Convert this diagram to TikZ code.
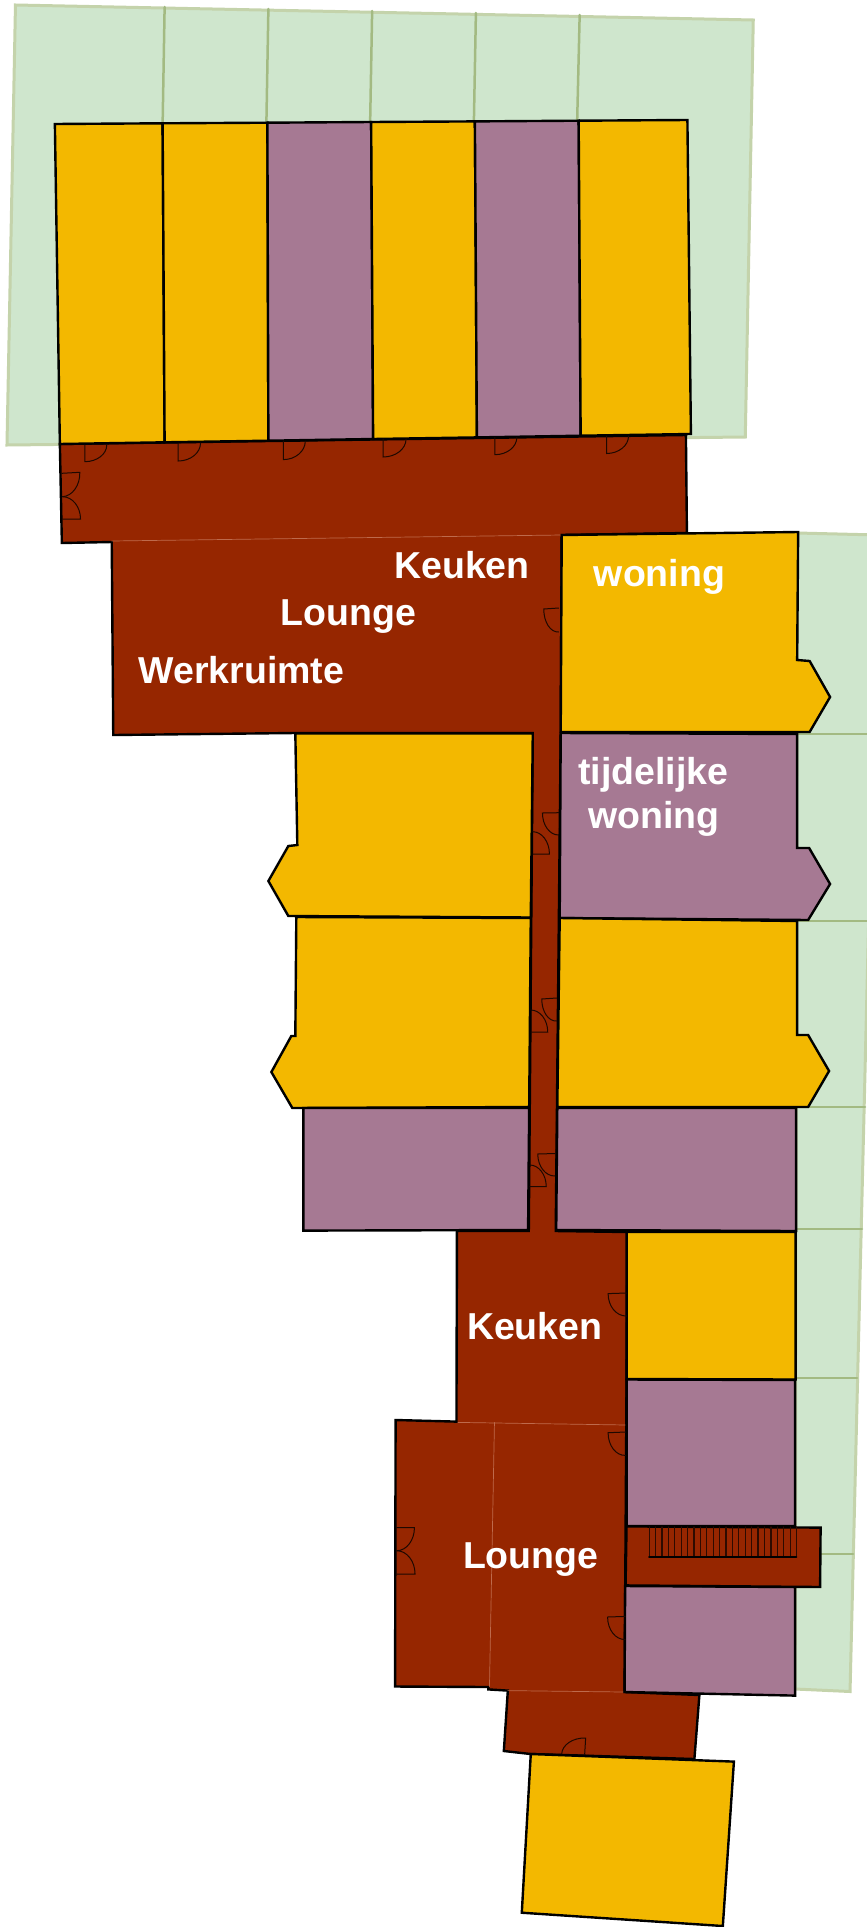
\documentclass[tikz,border=0pt]{standalone}
\usepackage{fontspec}
\setmainfont{Liberation Sans}
\usetikzlibrary{calc}
\definecolor{tuin}{HTML}{CFE6CD}
\definecolor{tuinrand}{HTML}{C4D3AB}
\definecolor{tuinlijn}{HTML}{A3BA82}
\definecolor{geel}{HTML}{F3B800}
\definecolor{paars}{HTML}{A67993}
\definecolor{rood}{HTML}{962600}
\definecolor{roodlijn}{HTML}{BE6A4C}
\tikzset{
  tuinvlak/.style={fill=tuin,draw=tuinrand,line width=3pt},
  tuinstreep/.style={draw=tuinlijn,line width=2.5pt},
  geelvlak/.style={fill=geel,draw=black,line width=2.4pt},
  paarsvlak/.style={fill=paars,draw=black,line width=2.4pt},
  roodvlak/.style={fill=rood,draw=black,line width=2.4pt},
  deur/.style={draw=black!80!rood,line width=1pt},
  roomname/.style={text=white,font=\bfseries\fontsize{37.5}{37.5}\selectfont,anchor=base,inner sep=0pt}
}
\begin{document}
\begin{tikzpicture}[x=0.9977pt,y=-1pt,cap=round]
  \clip (0,0) rectangle (869,1927);
% gardens
  \draw[tuinvlak] (15.5,5) -- (755,20) -- (747,437) -- (7,445) -- cycle;
  \foreach \xa/\ya/\xb/\yb in {165/7/163/124,269/9/267/123,373/11/371/122,477/13/475/121,581/15/578.5/121}
    \draw[tuinstreep] (\xa,\ya) -- (\xb,\yb);
  \draw[tuinvlak] (799,533) -- (880,535) -- (852,1691.5) -- (797,1689) -- cycle;
  \foreach \ya/\xb in {734/875,921/871,1107/867,1229/864,1378/859,1554/855}
    \draw[tuinstreep] (799,\ya) -- (\xb,\ya);
% corridors
  \draw[roodvlak] (60,444) -- (687.5,435) -- (688.5,533) -- (563,535) -- (562,733) -- (557,1231)
    -- (629,1232) -- (628,1380) -- (626,1692) -- (701,1695) -- (696,1759) -- (532,1754) -- (505,1751)
    -- (509,1690.6) -- (489.5,1689.4) -- (489.5,1687) -- (396,1686.5) -- (396.5,1420) -- (457.5,1421.6)
    -- (458,1231) -- (530,1231) -- (534,733) -- (296,733) -- (113.5,735) -- (112,542) -- (62,543) -- cycle;
  \foreach \xa/\ya/\xb/\yb in {112/541/563/535,459/1422.4/628/1425,495.6/1422.4/490.6/1686.5,509/1690.6/625.5/1692}
    \draw[roodlijn,line width=0.7pt] (\xa,\ya) -- (\xb,\yb);
% top row
  \draw[geelvlak] (55,124) -- (163,123.3) -- (165,442.3) -- (60,444) -- cycle;
  \draw[geelvlak] (163,123.3) -- (268,122.7) -- (269,440.7) -- (165,442.3) -- cycle;
  \draw[paarsvlak] (268,122.7) -- (372,122) -- (374,439) -- (269,440.7) -- cycle;
  \draw[geelvlak] (372,122) -- (476,121.4) -- (478,437.4) -- (374,439) -- cycle;
  \draw[paarsvlak] (476,121.4) -- (580,120.7) -- (582,435.7) -- (478,437.4) -- cycle;
  \draw[geelvlak] (580,120.7) -- (689,120) -- (692.5,434) -- (582,435.7) -- cycle;
% right wing
  \draw[geelvlak] (563,535) -- (800,532) -- (799,660) -- (811.5,661) -- (832,697) -- (811.5,732) -- (562,732) -- cycle;
  \draw[paarsvlak] (562,733) -- (799,734) -- (799,848) -- (811,848) -- (832,884) -- (810,920) -- (561,918) -- cycle;
  \draw[geelvlak] (561,918) -- (799,921) -- (799,1035) -- (810,1035) -- (831,1071) -- (810,1107) -- (558.6,1107) -- cycle;
  \draw[paarsvlak] (558.6,1108) -- (798,1108) -- (798,1231) -- (557.5,1230) -- cycle;
  \draw[geelvlak] (628,1232) -- (797.5,1232) -- (797.5,1379.5) -- (628,1379) -- cycle;
  \draw[paarsvlak] (628,1379.5) -- (797,1380) -- (797,1526) -- (628,1526) -- cycle;
  \draw[paarsvlak] (626.6,1586) -- (797,1587) -- (797,1695.6) -- (626,1692) -- cycle;
% left wing
  \draw[geelvlak] (296,733.5) -- (534,733.5) -- (532,917.5) -- (289,916) -- (269,881) -- (289,846) -- (298,845) -- cycle;
  \draw[geelvlak] (297,917) -- (532,918) -- (530.4,1107) -- (293,1108) -- (272,1072) -- (292,1036) -- (296,1036) -- cycle;
  \draw[paarsvlak] (304,1108) -- (530.4,1108) -- (529.3,1230) -- (304,1230.6) -- cycle;
% south block
  \draw[geelvlak] (532,1754) -- (735.6,1761.6) -- (724.5,1926) -- (523,1912.7) -- cycle;
% stairs
  \draw[roodvlak] (628,1526.4) -- (822.5,1527.6) -- (822,1587) -- (627,1585.4) -- cycle;
  \foreach \x in {0,...,23}
    \draw[black!70!rood,line width=1.2pt] ({650.7+\x*6.42},1527) -- ({650.7+\x*6.42},1557);
  \draw[black,line width=2.4pt] (650.7,1557) -- (798,1557);
% doors: hinge / leaf tip / arc end
  \foreach \hx/\hy/\tx/\ty/\ex/\ey in {
      85/445/85/461.7/107/445, 178.6/443/178.6/461/201/443, 284/441/284/459.6/306/441,
      384/439/384/457/407/439, 496/437.5/496/454.7/518/437.5, 608/436/608/453.5/630/436,
      62/473.3/80/472.3/62.7/496.7, 62.7/519/80.7/519/62.7/496.7,
      560/608/545/609/560/632,
      560/812.7/543.7/813/560/835, 534/854/550.7/854/534/831.7,
      558/998/543/999/558/1021, 532/1032/549/1032/532/1010,
      556.4/1153.5/539/1154/556.4/1176, 531/1186.5/547.5/1186.5/531/1165,
      628/1293/609.5/1293.6/628/1316, 627/1432/609.5/1432.7/627/1455.4,
      626.7/1616.4/609/1617/626.7/1639.5,
      397.7/1527.6/415.4/1527.6/397.7/1550.7, 397.7/1574/416/1574/397.7/1550.7,
      586/1754.6/587/1738/563/1753.8}
    \draw[deur] (\ex,\ey) .. controls ($(\ex,\ey)+0.55*(\tx,\ty)-0.55*(\hx,\hy)$)
      and ($(\tx,\ty)+0.55*(\ex,\ey)-0.55*(\hx,\hy)$) .. (\tx,\ty) -- (\hx,\hy);
% room names
  \node[roomname] (keukenboven) at (463,578) {Keuken};
  \node[roomname] (loungeboven) at (349,625) {Lounge};
  \node[roomname] (werkruimte) at (242,683) {Werkruimte};
  \node[roomname] (woningboven) at (661,586) {woning};
  \node[roomname] (tijdelijke) at (655,784.5) {tijdelijke};
  \node[roomname] (woningonder) at (655.5,828) {woning};
  \node[roomname] (keukenonder) at (536,1339.5) {Keuken};
  \node[roomname] (loungeonder) at (532,1568) {Lounge};
\end{tikzpicture}
\end{document}
